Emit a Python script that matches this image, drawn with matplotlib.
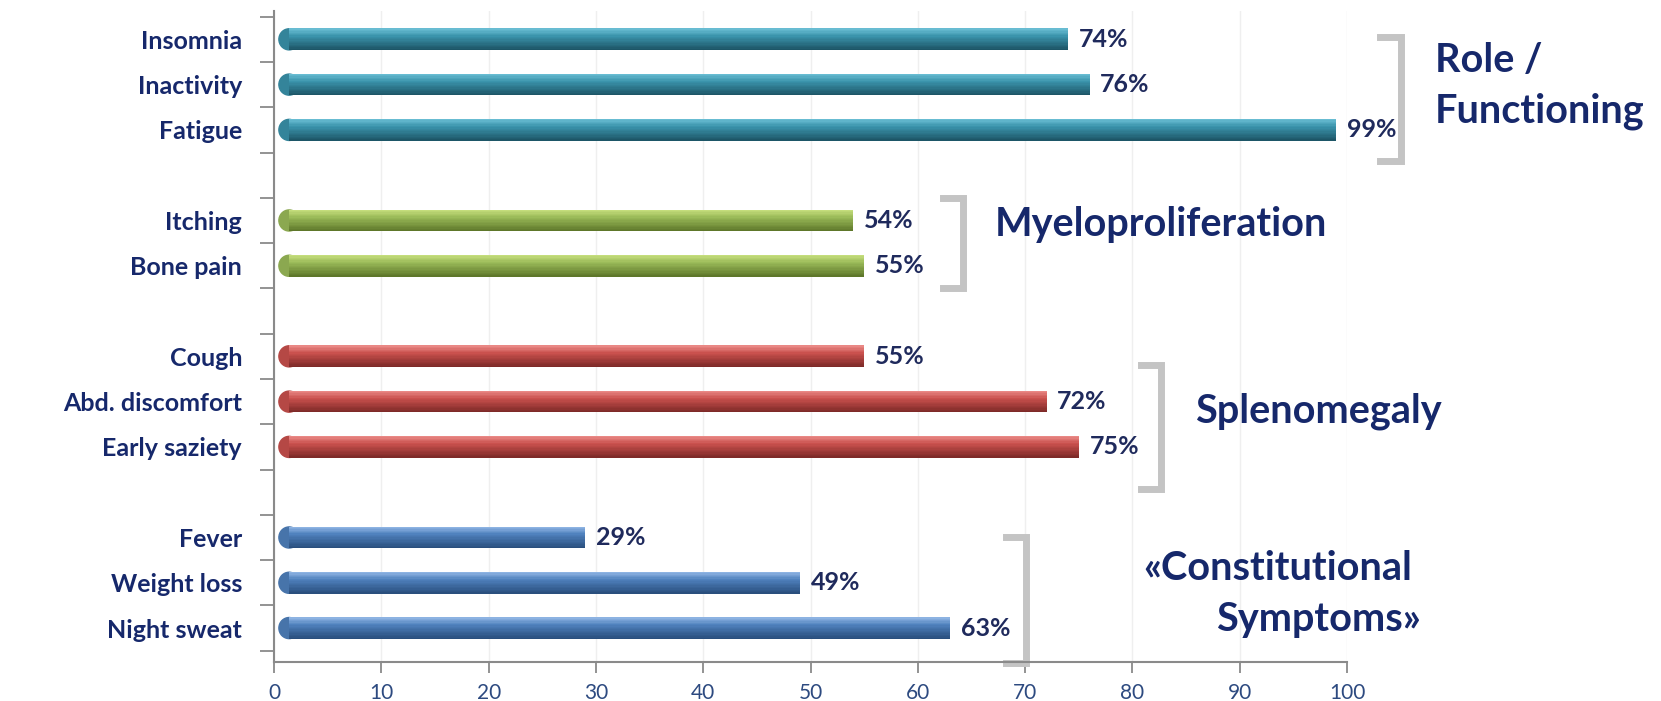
import numpy as np
import matplotlib
matplotlib.use("Agg")
import matplotlib.pyplot as plt
from matplotlib.colors import to_rgb
from matplotlib.patches import Ellipse

plt.rcParams['font.family'] = ['Lato', 'DejaVu Sans']

# data, top to bottom
labels = ["Insomnia", "Inactivity", "Fatigue",
          "Itching", "Bone pain",
          "Cough", "Abd. discomfort", "Early saziety",
          "Fever", "Weight loss", "Night sweat"]
values = [74, 76, 99, 54, 55, 55, 72, 75, 29, 49, 63]
group_of = [0, 0, 0, 1, 1, 2, 2, 2, 3, 3, 3]
group_lines = [["Role /", "Functioning"], ["Myeloproliferation"], ["Splenomegaly"],
               ["\u00abConstitutional", "Symptoms\u00bb"]]
# (light, mid, dark) per group
group_colors = [("#6cc0d6", "#3a93ab", "#1c5364"),
                ("#c8e07f", "#9bbb59", "#5b7428"),
                ("#ec8d8a", "#c9504d", "#7a2826"),
                ("#93b8e6", "#4f81bd", "#284c7a")]

# slot positions (one empty slot between groups)
ypos = []
slot = 0
prev = group_of[0]
for g in group_of:
    if g != prev:
        slot += 1
        prev = g
    ypos.append(slot)
    slot += 1

navy = "#16286b"

fig = plt.figure(figsize=(16.61, 7.01), dpi=100)
ax = fig.add_axes([0.165, 0.0556, 0.646, 0.929])

bar_h = 0.48
start = 1.4
nstrip = 16
for y, v, g in zip(ypos, values, group_of):
    light, mid, dark = [np.array(to_rgb(c)) for c in group_colors[g]]
    for k in range(nstrip):
        t = (k + 0.5) / nstrip  # 0 top -> 1 bottom
        if t < 0.35:
            c = light + (mid - light) * (t / 0.35)
        else:
            c = mid + (dark - mid) * ((t - 0.35) / 0.65)
        yk = y - bar_h / 2 + (k + 0.5) * bar_h / nstrip
        ax.barh(yk, v - start, left=start, height=bar_h / nstrip,
                color=c, edgecolor='none', zorder=3)
    # rounded left end of the cylinder (only the left half shows)
    ax.add_patch(Ellipse((start, y), 1.9, bar_h * 0.97, color=mid * 0.9,
                         zorder=2.9))
    ax.text(v + 1.0, y, f"{v}%", ha='left', va='center', fontsize=18,
            fontweight='bold', color="#1f2a5c", zorder=4)

ax.set_xlim(0, 100)
ax.set_ylim(13.75, -0.63)
ax.set_xticks(np.arange(0, 101, 10))
ax.set_yticks(ypos)
ax.set_yticklabels(labels)
ax.set_yticks(np.arange(-0.5, 13.6, 1), minor=True)
ax.tick_params(axis='y', which='major', length=0, pad=23,
               labelsize=18, labelcolor=navy)
ax.tick_params(axis='y', which='minor', length=10, color='#8a8a8a', width=1.3)
ax.tick_params(axis='x', length=8, color='#8a8a8a', width=1.3,
               labelsize=15, labelcolor="#2d4a80", pad=7)
for lab in ax.get_yticklabels():
    lab.set_fontweight('bold')

for s in ['top', 'right']:
    ax.spines[s].set_visible(False)
for s in ['left', 'bottom']:
    ax.spines[s].set_color('#8a8a8a')
    ax.spines[s].set_linewidth(1.5)
ax.xaxis.grid(True, color='#efefef', linewidth=1.0, zorder=0)
ax.set_axisbelow(True)

# group brackets and names
bracket_x = [103.1, 62.3, 80.8, 68.2]
bracket_y = [(-0.05, 2.69), (3.5, 5.49), (7.2, 9.93), (11.0, 13.78)]
name_x = [[108.2, 108.2], [67.2], [85.8], [81.0, 87.8]]
name_y = [[0.47, 1.59], [4.09], [8.22], [11.68, 12.8]]
for bx, (y0, y1), nxs, nys, lines in zip(bracket_x, bracket_y, name_x, name_y,
                                         group_lines):
    ax.plot([bx, bx + 1.9, bx + 1.9, bx], [y0, y0, y1, y1], color='#c4c4c4',
            linewidth=5, solid_joinstyle='miter', clip_on=False, zorder=2)
    for nx, ny, line in zip(nxs, nys, lines):
        ax.text(nx, ny, line, ha='left', va='center', fontsize=28.5,
                fontweight='bold', color=navy, clip_on=False)

fig.savefig("out.png", dpi=100)
